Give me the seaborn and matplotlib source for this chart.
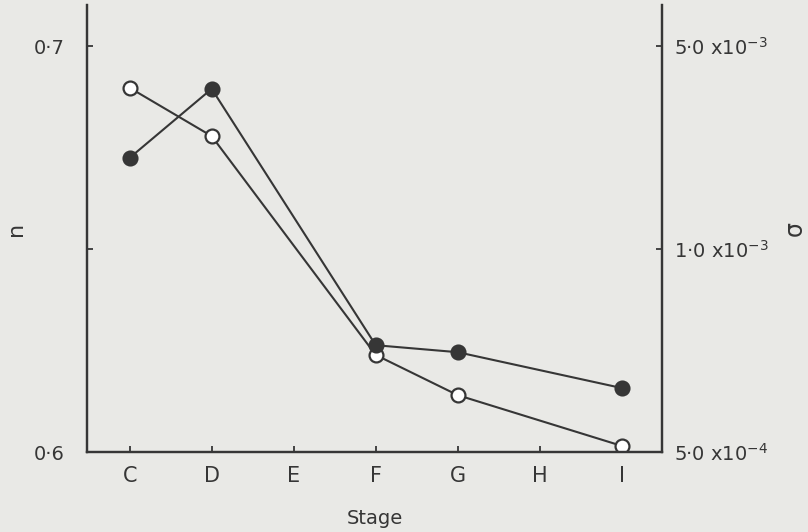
import numpy as np
import pandas as pd
import matplotlib
matplotlib.use("Agg")
import matplotlib.pyplot as plt
import seaborn as sns

# stages on the x axis (E and H have no measurements)
stages = ["C", "D", "E", "F", "G", "H", "I"]
measured = ["C", "D", "F", "G", "I"]

# open circles, left axis (n)
n_values = [0.6897, 0.6778, 0.6239, 0.6140, 0.6015]
# filled circles, right axis (sigma)
sigma_values = [2.06e-3, 3.56e-3, 7.2e-4, 7.03e-4, 6.22e-4]

n_ticks = [0.6, 0.65, 0.7]
n_ticklabels = ["0·6", "", "0·7"]
sigma_ticks = [5.0e-4, 1.0e-3, 5.0e-3]
sigma_ticklabels = ["5·0 x10$^{-4}$", "1·0 x10$^{-3}$", "5·0 x10$^{-3}$"]

bg = "#e9e9e6"
ink = "#363636"

sns.set_theme(style="ticks")
plt.rcParams["font.family"] = ["DejaVu Sans"]
plt.rcParams["mathtext.fontset"] = "dejavusans"


# the sigma axis is drawn piecewise logarithmic between its labelled values
L0, L1, L2 = np.log10(5e-4), np.log10(1e-3), np.log10(5e-3)


def fwd(s):
    lg = np.log10(np.clip(s, 1e-12, None))
    return np.where(lg <= L1, (lg - L0) / (L1 - L0), 1 + (lg - L1) / (L2 - L1))


def inv(u):
    u = np.asarray(u, dtype=float)
    return np.where(u <= 1, 10 ** (L0 + u * (L1 - L0)), 10 ** (L1 + (u - 1) * (L2 - L1)))


df = pd.DataFrame({
    "stage": [stages.index(s) for s in measured],
    "n": n_values,
    "sigma": sigma_values,
})

fig = plt.figure(figsize=(8.08, 5.32), dpi=100, facecolor=bg)
ax = fig.add_axes([87 / 808, 80 / 532, (662 - 87) / 808, 447 / 532])
ax.set_facecolor(bg)
ax2 = ax.twinx()

sns.lineplot(data=df, x="stage", y="n", ax=ax, color=ink, lw=1.5, marker="o",
             markersize=10, markerfacecolor="white", markeredgecolor=ink,
             markeredgewidth=1.6)
sns.lineplot(data=df, x="stage", y="sigma", ax=ax2, color=ink, lw=1.5, marker="o",
             markersize=10, markerfacecolor=ink, markeredgecolor=ink,
             markeredgewidth=1.6)

ax.set_xlim(-0.52, 6.49)
ax.set_ylim(0.6, 0.6 + 447 / 4060)
ax.set_xticks(range(len(stages)))
ax.set_xticklabels(stages)
ax.set_yticks(n_ticks)
ax.set_yticklabels(n_ticklabels)

ax2.set_yscale("function", functions=(fwd, inv))
ax2.set_ylim(5e-4, float(inv(447 / 203)))
ax2.set_yticks(sigma_ticks)
ax2.set_yticklabels(sigma_ticklabels)
ax2.yaxis.set_minor_locator(matplotlib.ticker.NullLocator())

for a in (ax, ax2):
    for side in ("left", "right", "bottom", "top"):
        a.spines[side].set_color(ink)
        a.spines[side].set_linewidth(1.6)
    a.spines["top"].set_visible(False)
    a.tick_params(direction="in", length=4, width=1.3, color=ink,
                  labelcolor=ink, labelsize=14)

ax.tick_params(axis="y", pad=16)
ax.tick_params(axis="x", pad=10, labelsize=15)
ax2.tick_params(axis="y", pad=9)

ax.set_xlabel("Stage", fontsize=14, color=ink, labelpad=17)
ax.set_ylabel("n", fontsize=16, color=ink, labelpad=6)
ax2.set_ylabel("σ", fontsize=17, color=ink, rotation=90, labelpad=10)

fig.savefig("out.png", dpi=100, facecolor=bg)
